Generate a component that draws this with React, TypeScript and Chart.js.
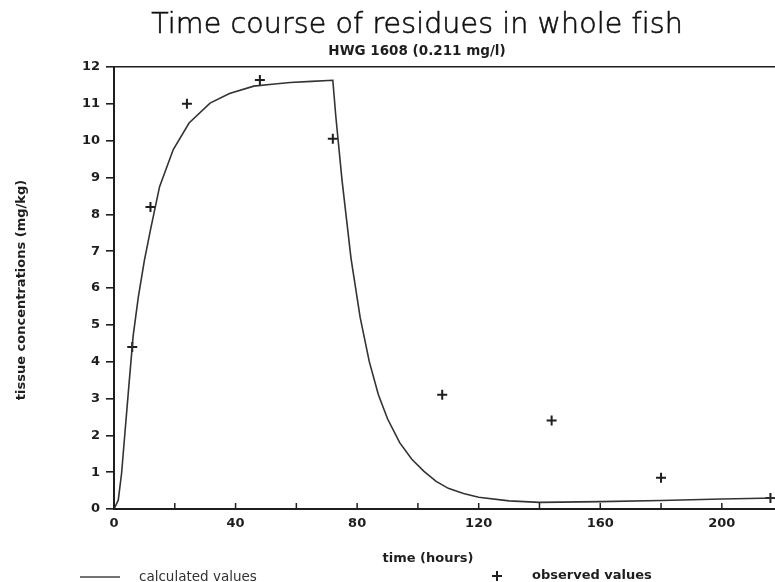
import React, { useEffect, useRef } from 'react';
import { Chart, registerables } from 'chart.js';

Chart.register(...registerables);

// ---- texts ----
const TITLE = 'Time course of residues in whole fish';
const SUBTITLE = 'HWG 1608 (0.211 mg/l)';
const X_TITLE = 'time (hours)';
const Y_TITLE = 'tissue concentrations (mg/kg)';
const LEGEND_CALC = 'calculated values';
const LEGEND_OBS = 'observed values';

// ---- axes ----
const X_MIN = 0;
const X_MAX = 217.5;
const X_MINOR_STEP = 20;
const X_LABEL_STEP = 40;
const X_TICK_LAST = 200;
const Y_MIN = 0;
const Y_MAX = 12;
const Y_STEP = 1;

// ---- observed values (+) ----
const obsTimes = [6, 12, 24, 48, 72, 108, 144, 180, 216];
const obsValues = [4.4, 8.2, 11.0, 11.65, 10.05, 3.1, 2.4, 0.85, 0.3];

// ---- calculated values (line) ----
const calcTimes = [0, 1.4, 2.5, 3.6, 5, 6.3, 8, 10, 12, 15, 19.5, 24.7, 31.6, 38, 46, 52, 58, 65, 72,
  73, 75, 78, 81, 84, 87, 90, 94, 98, 102, 106, 110, 115, 120, 130, 140, 160, 180, 200, 217.5];
const calcValues = [0, 0.24, 0.97, 2.07, 3.45, 4.7, 5.75, 6.75, 7.58, 8.75, 9.76, 10.48, 11.02, 11.28, 11.48, 11.53, 11.58, 11.61, 11.64,
  10.65, 8.95, 6.8, 5.2, 4.0, 3.1, 2.45, 1.8, 1.35, 1.02, 0.75, 0.56, 0.42, 0.32, 0.22, 0.18, 0.2, 0.23, 0.27, 0.3];

const INK = '#1e1e1e';
const W = 775;
const H = 582;
const PLOT_LEFT = 114;
const PLOT_TOP = 67;
const PLOT_BOTTOM = 509;

const decorPlugin = {
  id: 'decor',
  afterDraw(chart: any) {
    const ctx = chart.ctx as CanvasRenderingContext2D;
    const { bottom } = chart.chartArea;
    const xs = chart.scales.x;
    ctx.save();
    // inward x tick marks
    ctx.strokeStyle = INK;
    ctx.lineWidth = 1.5;
    for (let v = X_MIN; v <= X_TICK_LAST; v += X_MINOR_STEP) {
      const px = xs.getPixelForValue(v);
      ctx.beginPath();
      ctx.moveTo(px, bottom);
      ctx.lineTo(px, bottom - 6);
      ctx.stroke();
    }
    ctx.fillStyle = '#111';
    ctx.strokeStyle = '#111';
    ctx.textAlign = 'center';
    ctx.textBaseline = 'alphabetic';
    ctx.font = '200 28.5px "DejaVu Sans"';
    (ctx as any).letterSpacing = '0.1px';
    ctx.fillText(TITLE, 417, 33);
    ctx.lineWidth = 0.6;
    ctx.strokeText(TITLE, 417, 33);
    (ctx as any).letterSpacing = '0px';
    ctx.fillStyle = INK;
    ctx.font = 'bold 13.5px "DejaVu Sans"';
    ctx.fillText(SUBTITLE, 417, 55);

    ctx.textBaseline = 'middle';
    ctx.font = 'bold 13px "DejaVu Sans"';
    ctx.fillText(X_TITLE, 428, 559);

    ctx.save();
    ctx.translate(22, 290);
    ctx.rotate(-Math.PI / 2);
    ctx.fillText(Y_TITLE, 0, 0);
    ctx.restore();

    // legend
    ctx.lineWidth = 1.4;
    ctx.strokeStyle = '#444';
    ctx.beginPath();
    ctx.moveTo(80, 577);
    ctx.lineTo(120, 577);
    ctx.stroke();
    ctx.textAlign = 'left';
    ctx.font = '13.5px "DejaVu Sans"';
    ctx.fillStyle = '#333';
    ctx.fillText(LEGEND_CALC, 139, 577);
    ctx.fillStyle = INK;
    ctx.lineWidth = 2;
    ctx.strokeStyle = INK;
    ctx.beginPath();
    ctx.moveTo(492, 576);
    ctx.lineTo(502, 576);
    ctx.moveTo(497, 571);
    ctx.lineTo(497, 581);
    ctx.stroke();
    ctx.font = 'bold 13px "DejaVu Sans"';
    ctx.fillText(LEGEND_OBS, 532, 576);
    ctx.restore();
  },
};

export default function App() {
  const canvasRef = useRef<HTMLCanvasElement | null>(null);

  useEffect(() => {
    document.body.style.margin = '0';
    const canvas = canvasRef.current;
    if (!canvas) return;
    const chart = new Chart(canvas, {
      type: 'scatter',
      data: {
        datasets: [
          {
            type: 'line',
            label: LEGEND_CALC,
            data: calcTimes.map((t, i) => ({ x: t, y: calcValues[i] })),
            borderColor: '#333',
            borderWidth: 1.6,
            pointRadius: 0,
            tension: 0,
            fill: false,
          },
          {
            type: 'scatter',
            label: LEGEND_OBS,
            data: obsTimes.map((t, i) => ({ x: t, y: obsValues[i] })),
            pointStyle: 'cross',
            pointRadius: 5,
            borderColor: INK,
            backgroundColor: INK,
            borderWidth: 2,
            clip: false,
          } as any,
        ],
      },
      options: {
        responsive: false,
        animation: false,
        devicePixelRatio: 1,
        layout: { autoPadding: false, padding: { top: PLOT_TOP, left: 0, right: 0, bottom: 0 } },
        plugins: {
          legend: { display: false },
          title: { display: false },
          tooltip: { enabled: false },
        },
        scales: {
          x: {
            type: 'linear',
            min: X_MIN,
            max: X_MAX,
            border: { display: true, color: INK, width: 2 },
            grid: {
              display: true,
              drawOnChartArea: false,
              drawTicks: true,
              tickLength: 7,
              tickColor: 'rgba(0,0,0,0)',
            },
            ticks: {
              stepSize: X_MINOR_STEP,
              includeBounds: false,
              autoSkip: false,
              maxRotation: 0,
              padding: 0,
              color: INK,
              font: { family: '"DejaVu Sans"', size: 13, weight: 'bold' },
              callback: (v: any) => (Number(v) % X_LABEL_STEP === 0 && Number(v) <= X_TICK_LAST ? String(v) : ''),
            },
            afterFit: (s: any) => {
              s.height = H - PLOT_BOTTOM;
            },
          },
          y: {
            type: 'linear',
            min: Y_MIN,
            max: Y_MAX,
            border: { display: true, color: INK, width: 2 },
            grid: {
              drawOnChartArea: true,
              color: (c: any) => (c.tick && c.tick.value === Y_MAX ? INK : 'rgba(0,0,0,0)'),
              tickColor: INK,
              tickLength: 8,
              lineWidth: 1.6,
            },
            ticks: {
              stepSize: Y_STEP,
              padding: 6,
              color: INK,
              font: { family: '"DejaVu Sans"', size: 13, weight: 'bold' },
            },
            afterFit: (s: any) => {
              s.width = PLOT_LEFT;
            },
          },
        },
      },
      plugins: [decorPlugin],
    });
    return () => chart.destroy();
  }, []);

  return (
    <div style={{ width: W, height: H, background: '#fff' }}>
      <canvas ref={canvasRef} width={W} height={H} />
    </div>
  );
}
